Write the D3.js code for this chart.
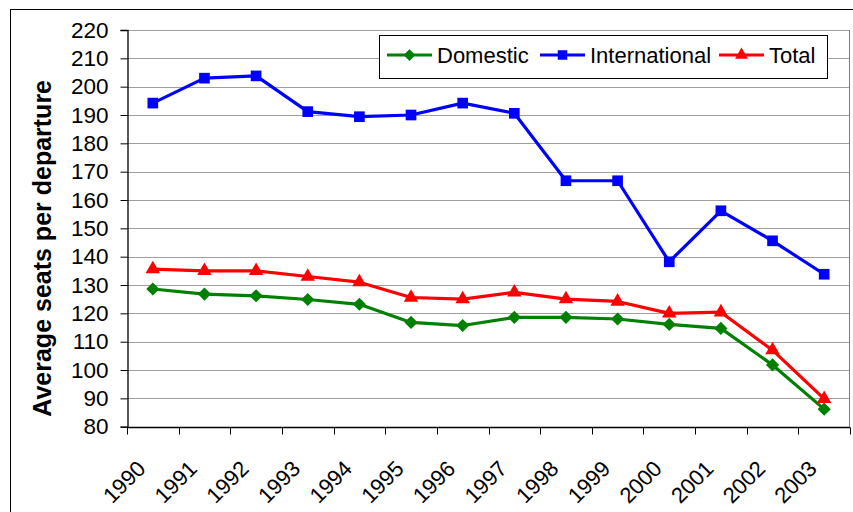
<!DOCTYPE html>
<html>
<head>
<meta charset="utf-8">
<script src="https://cdn.jsdelivr.net/npm/d3@7"></script>
<style>
  body { margin: 0; background: #fff; }
  text { font-family: "Liberation Sans", Arial, sans-serif; }
</style>
</head>
<body>
<svg id="chart"></svg>
<script>
const years = ["1990", "1991", "1992", "1993", "1994", "1995", "1996", "1997",
  "1998", "1999", "2000", "2001", "2002", "2003"];
const domestic = [128.6, 126.8, 126.2, 124.9, 123.2, 116.8, 115.7, 118.6,
  118.6, 118.0, 116.1, 114.7, 101.8, 86.2];
const international = [194.2, 203.0, 203.8, 191.2, 189.4, 190.0, 194.2, 190.6,
  166.8, 166.8, 138.2, 156.2, 145.6, 133.8];
const total = [135.6, 135.0, 135.0, 133.0, 131.0, 125.6, 125.0, 127.4,
  125.0, 124.2, 120.0, 120.4, 107.0, 89.8];
const yTicks = [80, 90, 100, 110, 120, 130, 140, 150, 160, 170, 180, 190, 200, 210, 220];

const series = [
  { name: "Domestic", values: domestic, color: "#008000", shape: d3.symbolDiamond2, size: 110 },
  { name: "International", values: international, color: "#0000ff", shape: d3.symbolSquare2, size: 145 },
  { name: "Total", values: total, color: "#ff0000", shape: d3.symbolTriangle2, size: 150 }
];

const width = 853, height = 512;
const margin = { top: 30, right: 3, bottom: 85.3, left: 127 };

const svg = d3.select("#chart")
  .attr("width", width)
  .attr("height", height);

// outer chart border
svg.append("rect")
  .attr("x", 10.5).attr("y", 9.5)
  .attr("width", width + 10).attr("height", height + 10)
  .attr("fill", "none").attr("stroke", "#000");

const x = d3.scaleBand()
  .domain(years)
  .range([margin.left, width - margin.right]);

const y = d3.scaleLinear()
  .domain([80, 220])
  .range([height - margin.bottom, margin.top]);

// gridlines
svg.append("g")
  .selectAll("line")
  .data(yTicks.filter(d => d > 80))
  .join("line")
  .attr("x1", margin.left).attr("x2", width - margin.right)
  .attr("y1", d => Math.round(y(d)) + 0.5).attr("y2", d => Math.round(y(d)) + 0.5)
  .attr("stroke", "#a0a0a0");

// right edge of plot area
svg.append("line")
  .attr("x1", width - margin.right - 0.5).attr("x2", width - margin.right - 0.5)
  .attr("y1", margin.top).attr("y2", y(80))
  .attr("stroke", "#808080");

// y axis
const yAxis = svg.append("g")
  .attr("transform", `translate(${margin.left + 0.5},0)`)
  .call(d3.axisLeft(y).tickValues(yTicks).tickSize(7).tickPadding(12));
yAxis.select(".domain").attr("stroke", "#000").attr("stroke-width", 1.3);
yAxis.selectAll(".tick line").attr("stroke", "#000");
yAxis.selectAll("text")
  .attr("font-size", 22.5)
  .attr("fill", "#000")
  .attr("font-family", "Liberation Sans, Arial, sans-serif");

// x axis with ticks between categories
const xAxisG = svg.append("g")
  .attr("transform", `translate(0,${Math.round(y(80)) + 0.5})`);
xAxisG.append("line")
  .attr("x1", margin.left).attr("x2", width - margin.right)
  .attr("stroke", "#000").attr("stroke-width", 1.3);
xAxisG.selectAll("line.tk")
  .data(years.concat(["end"]))
  .join("line")
  .attr("class", "tk")
  .attr("x1", (d, i) => Math.round(margin.left + i * x.step()) + 0.5)
  .attr("x2", (d, i) => Math.round(margin.left + i * x.step()) + 0.5)
  .attr("y1", 0).attr("y2", 7)
  .attr("stroke", "#000");

svg.append("g")
  .selectAll("text")
  .data(years)
  .join("text")
  .attr("transform", d => `translate(${x(d) + x.bandwidth() / 2 - 6},470) rotate(-45)`)
  .attr("text-anchor", "end")
  .attr("font-size", 22)
  .text(d => d);

// y axis title
svg.append("text")
  .attr("transform", `translate(51,${(margin.top + y(80)) / 2 + 20}) rotate(-90)`)
  .attr("text-anchor", "middle")
  .attr("font-size", 25)
  .attr("font-weight", "bold")
  .text("Average seats per departure");

// lines and markers
const cx = (d, i) => x(years[i]) + x.bandwidth() / 2;
const line = d3.line()
  .x(cx)
  .y(d => y(d));

series.forEach(s => {
  svg.append("path")
    .datum(s.values)
    .attr("fill", "none")
    .attr("stroke", s.color)
    .attr("stroke-width", 3.2)
    .attr("stroke-linejoin", "round")
    .attr("d", line);
  svg.append("g")
    .selectAll("path")
    .data(s.values)
    .join("path")
    .attr("transform", (d, i) => `translate(${cx(d, i)},${y(d)})`)
    .attr("d", d3.symbol(s.shape, s.size))
    .attr("fill", s.color);
});

// legend
const legend = svg.append("g");
legend.append("rect")
  .attr("x", 379.5).attr("y", 35.5)
  .attr("width", 448).attr("height", 43)
  .attr("fill", "#fff").attr("stroke", "#000");
const legendX = [387, 540, 719];
series.forEach((s, i) => {
  const lx = legendX[i];
  legend.append("line")
    .attr("x1", lx).attr("x2", lx + 45)
    .attr("y1", 55).attr("y2", 55)
    .attr("stroke", s.color).attr("stroke-width", 3);
  legend.append("path")
    .attr("transform", `translate(${lx + 22.5},55)`)
    .attr("d", d3.symbol(s.shape, s.size * 0.8))
    .attr("fill", s.color);
  legend.append("text")
    .attr("x", lx + 50).attr("y", 62.5)
    .attr("font-size", 22)
    .text(s.name);
});
</script>
</body>
</html>
